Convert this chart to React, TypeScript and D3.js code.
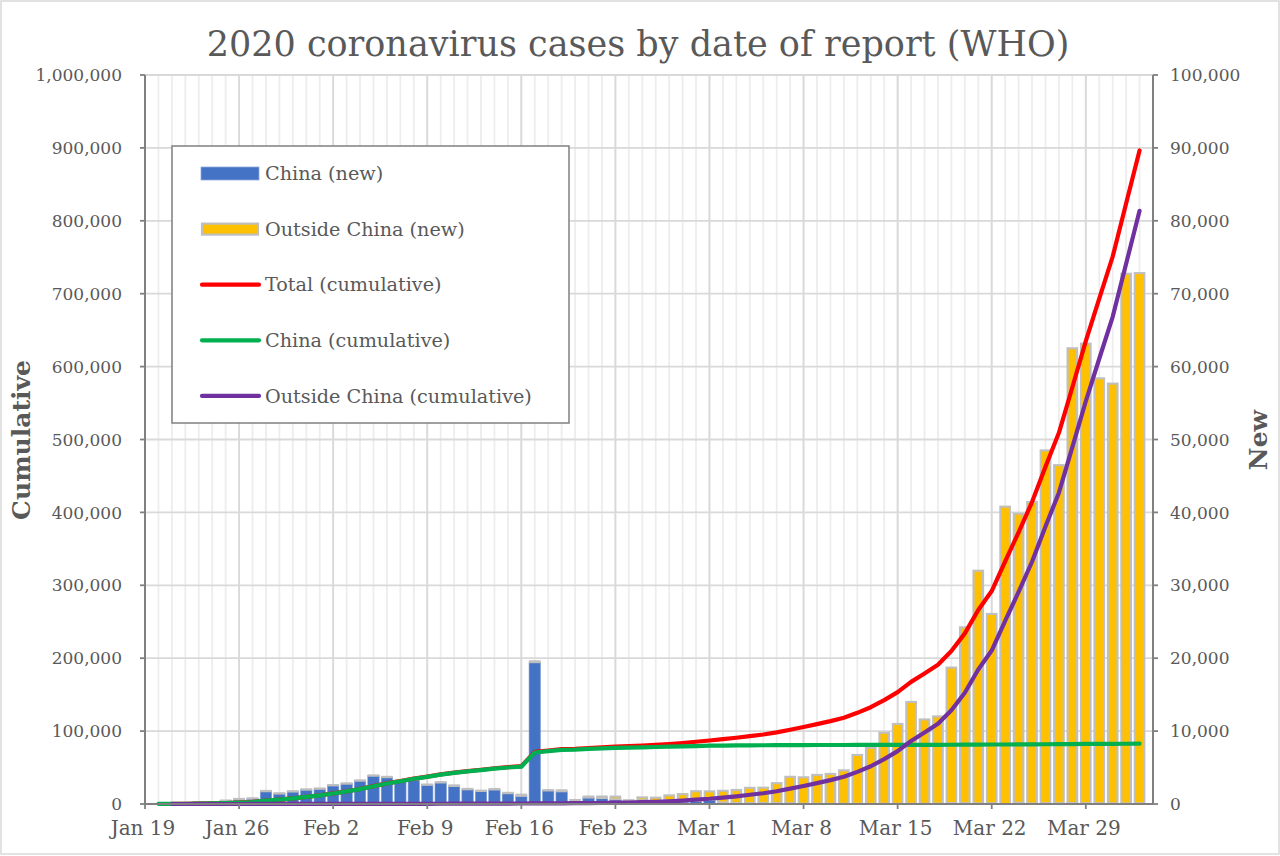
import React from "react";
import * as d3 from "d3";

// ---- Data (dates Jan 20 .. Apr 2, 2020) ----
const startDate = new Date(2020, 0, 20);
const endDate = new Date(2020, 3, 3);
const dates: Date[] = d3.timeDay.range(startDate, endDate);

const chinaNew = [
  0, 0, 31, 262, 259, 467, 688, 776, 1776, 1460, 1739, 1984,
  2101, 2590, 2827, 3233, 3892, 3697, 3151, 3387, 2653, 2984, 2473, 2022, 1820, 1998, 1506, 1120,
  19461, 1893, 1752, 395, 894, 823, 650, 220, 518, 411, 439, 331, 433,
  574, 206, 130, 118, 143, 146, 102, 46, 45, 20, 31, 26, 10, 30, 27, 29, 39, 58, 126, 116, 82, 105,
  0, 166, 81, 113, 117, 152, 111, 106, 98,
  86, 93,
];

const outsideNew = [
  0, 0, 1, 5, 6, 7, 6, 8, 19, 12, 14, 24,
  26, 14, 7, 6, 32, 25, 54, 18, 19, 12, 76, 46, 6, 58, 21, 157,
  111, 10, 120, 149, 127, 202, 367, 300, 390, 459, 746, 1027, 1318,
  1160, 1605, 1792, 2102, 2100, 2713, 3629, 3617, 3946, 4105, 4586, 6703, 7700, 9746, 10956, 13969, 11558, 11957, 18586, 24118, 31918, 25964,
  40790, 39661, 41341, 48392, 46363, 62362, 63046, 58283, 57568,
  72650, 72731,
];

const totalCum: (number | null)[] = [
  null, 282, 314, 581, 846, 1320, 2014, 2798, 4593, 6065, 7818, 9826,
  11953, 14557, 17391, 20630, 24554, 28276, 31481, 34886, 37558, 40554, 43103, 45171, 46997, 49053, 50580, 51857,
  71429, 73332, 75204, 75748, 76769, 77794, 78811, 79331, 80239, 81109, 82294, 83652, 85403,
  87137, 88948, 90870, 93090, 95333, 98192, 101923, 105586, 109577, 113702, 118319, 125048, 132758, 142534, 153517, 167515, 179112, 191127, 209839, 234073, 266073, 292142,
  332930, 372757, 414179, 462684, 509164, 571678, 634835, 693224, 750890,
  823626, 896450,
];

const chinaCum: (number | null)[] = [
  278, 278, 309, 571, 830, 1297, 1985, 2761, 4537, 5997, 7736, 9720,
  11821, 14411, 17238, 20471, 24363, 28060, 31211, 34598, 37251, 40235, 42708, 44730, 46550, 48548, 50054, 51174,
  70635, 72528, 74280, 74675, 75569, 76392, 77042, 77262, 77780, 78191, 78630, 78961, 79394,
  79968, 80174, 80304, 80422, 80565, 80711, 80813, 80859, 80904, 80924, 80955, 80981, 80991, 81021, 81048, 81077, 81116, 81174, 81300, 81416, 81498, 81603,
  81601, 81767, 81848, 81961, 82078, 82230, 82341, 82447, 82545,
  82631, 82724,
];

const outsideCum: (number | null)[] = [
  null, 4, 5, 10, 16, 23, 29, 37, 56, 68, 82, 106,
  132, 146, 153, 159, 191, 216, 270, 288, 307, 319, 395, 441, 447, 505, 526, 683,
  794, 804, 924, 1073, 1200, 1402, 1769, 2069, 2459, 2918, 3664, 4691, 6009,
  7169, 8774, 10566, 12668, 14768, 17481, 21110, 24727, 28673, 32778, 37364, 44067, 51767, 61513, 72469, 86438, 97996, 109953, 128539, 152657, 184575, 210539,
  251329, 290990, 332331, 380723, 427086, 489448, 552494, 610777, 668345,
  740995, 813726,
];

const leftTicks = [0, 100000, 200000, 300000, 400000, 500000, 600000, 700000, 800000, 900000, 1000000];
const rightTicks = [0, 10000, 20000, 30000, 40000, 50000, 60000, 70000, 80000, 90000, 100000];
const xTickLabels = ["Jan 19", "Jan 26", "Feb 2", "Feb 9", "Feb 16", "Feb 23", "Mar 1", "Mar 8", "Mar 15", "Mar 22", "Mar 29"];

const legendItems = [
  { label: "China (new)", kind: "barBlue" },
  { label: "Outside China (new)", kind: "barYellow" },
  { label: "Total (cumulative)", kind: "line", color: "#ff0000" },
  { label: "China (cumulative)", kind: "line", color: "#00b050" },
  { label: "Outside China (cumulative)", kind: "line", color: "#7030a0" },
];

const FONT = "'DejaVu Serif', serif";
const TEXT = "#595959";

export default function App() {
  const W = 1280, H = 856;
  const left = 145, right = 1153, top = 75, bottom = 804;

  const axisStart = new Date(2020, 0, 19);
  const axisEnd = new Date(2020, 3, 3);
  const x = d3.scaleTime().domain([axisStart, axisEnd]).range([left, right]);
  const yL = d3.scaleLinear().domain([0, 1000000]).range([bottom, top]);
  const yR = d3.scaleLinear().domain([0, 100000]).range([bottom, top]);

  const dayTicks = d3.timeDay.range(axisStart, d3.timeDay.offset(axisEnd, 1));
  const weekTicks = d3.timeDay.range(axisStart, axisEnd, 7);

  const line = (vals: (number | null)[]) =>
    d3.line<number | null>()
      .defined((v) => v != null)
      .x((_, i) => x(dates[i]))
      .y((v) => yL(v as number))(vals) || "";

  const barW = 9.6;
  const LW = 4.2;

  return (
    <div style={{ position: "absolute", left: 0, top: 0 }}>
      <svg width={W} height={H} style={{ display: "block" }}>
        <rect x={0} y={0} width={W} height={H} fill="#fff" />
        <rect x={1} y={1} width={W - 2} height={853} fill="none" stroke="#d9d9d9" strokeWidth={1.5} />
        <text x={638} y={56} textAnchor="middle" fontFamily={FONT} fontSize={35} fill={TEXT}>
          2020 coronavirus cases by date of report (WHO)
        </text>

        {/* minor vertical gridlines */}
        {dayTicks.map((d, i) => (
          <line key={"md" + i} x1={x(d)} x2={x(d)} y1={top} y2={bottom} stroke="#ededed" strokeWidth={1.8} />
        ))}
        {/* major vertical gridlines */}
        {weekTicks.map((d, i) => (
          <line key={"wd" + i} x1={x(d)} x2={x(d)} y1={top} y2={bottom} stroke="#d9d9d9" strokeWidth={1.8} />
        ))}
        {/* horizontal gridlines */}
        {leftTicks.map((t, i) => (
          <line key={"hg" + i} x1={left} x2={right} y1={yL(t)} y2={yL(t)} stroke="#d9d9d9" strokeWidth={1.8} />
        ))}

        {/* bars */}
        {dates.map((d, i) => {
          const cx = x(d);
          const c = chinaNew[i];
          const o = outsideNew[i];
          const yc = yR(c);
          const yo = yR(c + o);
          return (
            <g key={"b" + i}>
              {c > 0 && (
                <rect x={cx - 5.7} y={yc} width={11.4} height={bottom - yc} fill="#4472c4" stroke="#7f9fd6" strokeWidth={0.6} />
              )}
              {o > 0 && (
                <rect x={cx - barW / 2} y={yo} width={barW} height={Math.max(yc - yo, 0.3)} fill="#ffc000" stroke="#bfbfbf" strokeWidth={2.1} />
              )}
            </g>
          );
        })}

        {/* lines */}
        <path d={line(totalCum)} fill="none" stroke="#ff0000" strokeWidth={LW} strokeLinejoin="round" strokeLinecap="round" />
        <path d={line(chinaCum)} fill="none" stroke="#00b050" strokeWidth={LW} strokeLinejoin="round" strokeLinecap="round" />
        <path d={line(outsideCum)} fill="none" stroke="#7030a0" strokeWidth={LW} strokeLinejoin="round" strokeLinecap="round" />

        {/* axes */}
        <line x1={left} x2={left} y1={top} y2={bottom} stroke="#808080" strokeWidth={2} />
        <line x1={right} x2={right} y1={top} y2={bottom} stroke="#808080" strokeWidth={2} />
        <line x1={left} x2={right} y1={bottom} y2={bottom} stroke="#808080" strokeWidth={2} />
        {leftTicks.map((t, i) => (
          <g key={"lt" + i}>
            <line x1={left - 5} x2={left} y1={yL(t)} y2={yL(t)} stroke="#808080" strokeWidth={1.8} />
            <text x={122} y={yL(t)} dy="0.36em" textAnchor="end" fontFamily={FONT} fontSize={17} fill={TEXT}>
              {d3.format(",")(t)}
            </text>
          </g>
        ))}
        {rightTicks.map((t, i) => (
          <g key={"rt" + i}>
            <line x1={right} x2={right + 5} y1={yR(t)} y2={yR(t)} stroke="#808080" strokeWidth={1.8} />
            <text x={1170} y={yR(t)} dy="0.36em" textAnchor="start" fontFamily={FONT} fontSize={17} fill={TEXT}>
              {d3.format(",")(t)}
            </text>
          </g>
        ))}
        {weekTicks.map((d, i) => (
          <g key={"xt" + i}>
            <line x1={x(d)} x2={x(d)} y1={bottom} y2={bottom + 5} stroke="#808080" strokeWidth={1.8} />
            <text x={x(d) - 2} y={835} textAnchor="middle" fontFamily={FONT} fontSize={20} fill={TEXT}>
              {xTickLabels[i]}
            </text>
          </g>
        ))}

        {/* axis titles */}
        <text transform="translate(30,440) rotate(-90)" textAnchor="middle" fontFamily={FONT} fontSize={25} fontWeight="bold" fill={TEXT}>
          Cumulative
        </text>
        <text transform="translate(1267,440) rotate(-90)" textAnchor="middle" fontFamily={FONT} fontSize={25} fontWeight="bold" fill={TEXT}>
          New
        </text>

        {/* legend */}
        <rect x={172} y={146} width={397} height={277} fill="#fff" stroke="#808080" strokeWidth={1.5} />
        {legendItems.map((it, i) => {
          const cy = 173.5 + i * 55.6;
          return (
            <g key={"lg" + i}>
              {it.kind === "barBlue" && (
                <rect x={201} y={cy - 6.5} width={58} height={13} fill="#4472c4" stroke="#8faadc" strokeWidth={0.8} />
              )}
              {it.kind === "barYellow" && (
                <rect x={202} y={cy - 5.5} width={56} height={11} fill="#ffc000" stroke="#bfbfbf" strokeWidth={2.2} />
              )}
              {it.kind === "line" && (
                <line x1={202} x2={259} y1={cy} y2={cy} stroke={it.color} strokeWidth={LW} strokeLinecap="round" />
              )}
              <text x={265} y={cy} dy="0.35em" fontFamily={FONT} fontSize={19.2} fill={TEXT}>
                {it.label}
              </text>
            </g>
          );
        })}
      </svg>
    </div>
  );
}
